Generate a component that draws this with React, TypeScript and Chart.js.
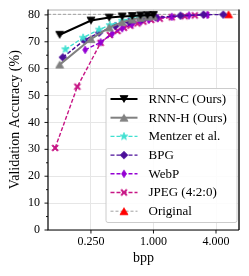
import React, { useEffect, useRef } from 'react';
import { Chart, registerables } from 'chart.js';

Chart.register(...registerables);

const FONT = '"Liberation Serif", "Times New Roman", serif';

const X_MIN = 0.0965;
const X_MAX = 6.66;
const Y_MIN = 0;
const Y_MAX = 82;
const xTickValues = [0.25, 1, 4];
const yTickValues = [0, 5, 10, 15, 20, 25, 30, 35, 40, 45, 50, 55, 60, 65, 70, 75, 80];

const rnnCBpp = [0.125, 0.25, 0.375, 0.5, 0.625, 0.75, 0.875, 1.0];
const rnnCAcc = [72.6, 77.9, 79.0, 79.4, 79.6, 79.8, 79.9, 80.0];

const rnnHBpp = [0.125, 0.25, 0.375, 0.5, 0.625, 0.75, 0.875, 1.0];
const rnnHAcc = [61.5, 71.0, 75.3, 77.3, 78.3, 78.9, 79.3, 79.5];

const mentzerBpp = [0.142, 0.21, 0.3, 0.38, 0.5, 0.62, 0.75];
const mentzerAcc = [67.2, 71.5, 74.5, 76.2, 77.8, 78.8, 79.3];

const bpgBpp = [0.134, 0.216, 0.3, 0.43, 0.58, 0.78, 1.05, 1.82, 3.03, 4.7];
const bpgAcc = [64.2, 70.6, 73.4, 75.9, 77.5, 78.5, 79.1, 79.7, 80.1, 80.1];

const webpBpp = [0.22, 0.31, 0.4, 0.5, 0.62, 0.75, 0.9, 1.1, 1.5, 2.2, 3.3];
const webpAcc = [67.0, 69.8, 73.0, 75.0, 76.5, 77.5, 78.2, 78.8, 79.3, 79.8, 80.0];

const jpegBpp = [0.113, 0.185, 0.31, 0.38, 0.45, 0.52, 0.6, 0.7, 0.8, 0.95, 1.15, 1.5, 2.0, 2.5, 3.2];
const jpegAcc = [30.5, 53.3, 69.6, 72.5, 74.0, 75.2, 76.0, 76.8, 77.5, 78.1, 78.6, 79.1, 79.5, 79.8, 80.0];

const originalBpp = [X_MIN, 5.28, X_MAX];
const originalAcc = [80.2, 80.2, 80.2];
const originalMarkerRadius = [0, 4, 0];

const seriesLabels = ['RNN-C (Ours)', 'RNN-H (Ours)', 'Mentzer et al.', 'BPG', 'WebP', 'JPEG (4:2:0)', 'Original'];

function mk(w: number, h: number, fn: (g: CanvasRenderingContext2D, cx: number, cy: number) => void) {
  const c = document.createElement('canvas');
  c.width = w;
  c.height = h;
  const g = c.getContext('2d')!;
  fn(g, w / 2, h / 2);
  return c;
}

function poly(g: CanvasRenderingContext2D, pts: number[][], color: string) {
  g.beginPath();
  pts.forEach((p, i) => (i === 0 ? g.moveTo(p[0], p[1]) : g.lineTo(p[0], p[1])));
  g.closePath();
  g.fillStyle = color;
  g.strokeStyle = color;
  g.lineWidth = 0.8;
  g.lineJoin = 'miter';
  g.fill();
  g.stroke();
}

function triDown(color: string, r: number) {
  return mk(10, 10, (g, cx, cy) => poly(g, [[cx - r, cy - r * 0.85], [cx + r, cy - r * 0.85], [cx, cy + r * 0.85]], color));
}
function triUp(color: string, r: number) {
  return mk(10, 10, (g, cx, cy) => poly(g, [[cx - r, cy + r * 0.85], [cx + r, cy + r * 0.85], [cx, cy - r * 0.85]], color));
}
function star(color: string, r: number) {
  return mk(10, 10, (g, cx, cy) => {
    const pts: number[][] = [];
    for (let i = 0; i < 10; i++) {
      const rr = i % 2 === 0 ? r : r * 0.4;
      const a = -Math.PI / 2 + (i * Math.PI) / 5;
      pts.push([cx + rr * Math.cos(a), cy + rr * Math.sin(a)]);
    }
    poly(g, pts, color);
  });
}
function diamond(color: string, rx: number, ry: number) {
  return mk(10, 10, (g, cx, cy) => poly(g, [[cx, cy - ry], [cx + rx, cy], [cx, cy + ry], [cx - rx, cy]], color));
}
function xMarker(color: string, r: number) {
  return mk(10, 10, (g, cx, cy) => {
    const t = 1.0;
    const pts = [
      [-r + t, -r], [0, -t], [r - t, -r], [r, -r + t], [t, 0], [r, r - t],
      [r - t, r], [0, t], [-r + t, r], [-r, r - t], [-t, 0], [-r, -r + t],
    ].map((p) => [cx + p[0], cy + p[1]]);
    poly(g, pts, color);
  });
}

export default function App() {
  const ref = useRef<HTMLCanvasElement>(null);

  useEffect(() => {
    if (!ref.current) return;

    const styles = [
      { color: '#000000', width: 2, dash: [] as number[], marker: triDown('#000000', 4) },
      { color: '#808080', width: 2, dash: [], marker: triUp('#808080', 4) },
      { color: '#40e0d0', width: 1.4, dash: [4, 2], marker: star('#40e0d0', 4) },
      { color: '#4b0f99', width: 1.4, dash: [4, 2], marker: diamond('#4b0f99', 3.8, 3.8) },
      { color: '#9400d3', width: 1.4, dash: [4, 2], marker: diamond('#9400d3', 2.4, 3.8) },
      { color: '#c71585', width: 1.4, dash: [4, 2], marker: xMarker('#c71585', 3.2) },
      { color: '#a0a0a0', width: 1, dash: [3, 2], marker: triUp('#ff0000', 4) },
    ];

    const seriesX = [rnnCBpp, rnnHBpp, mentzerBpp, bpgBpp, webpBpp, jpegBpp, originalBpp];
    const seriesY = [rnnCAcc, rnnHAcc, mentzerAcc, bpgAcc, webpAcc, jpegAcc, originalAcc];

    const datasets = seriesX.map((xs, si) => ({
      label: seriesLabels[si],
      data: xs.map((x, i) => ({ x, y: seriesY[si][i] })),
      borderColor: styles[si].color,
      backgroundColor: styles[si].color,
      borderWidth: styles[si].width,
      borderDash: styles[si].dash,
      pointStyle: styles[si].marker,
      pointRadius: si === 6 ? originalMarkerRadius : 4,
      tension: 0,
      clip: false as const,
      order: si === 6 ? 10 : si,
    }));

    const decor = {
      id: 'decor',
      afterDraw(chart: any) {
        const { ctx, chartArea: ca } = chart;
        const xs = chart.scales.x;
        const ys = chart.scales.y;
        ctx.save();
        // frame
        ctx.lineWidth = 1;
        ctx.strokeStyle = '#b0b0b0';
        ctx.beginPath();
        ctx.moveTo(ca.left, ca.top + 0.5);
        ctx.lineTo(ca.right, ca.top + 0.5);
        ctx.stroke();
        ctx.strokeStyle = '#555555';
        ctx.lineWidth = 2;
        ctx.beginPath();
        ctx.moveTo(ca.right, ca.top);
        ctx.lineTo(ca.right, ca.bottom);
        ctx.stroke();
        ctx.strokeStyle = '#000000';
        ctx.lineWidth = 1.2;
        ctx.beginPath();
        ctx.moveTo(ca.left, ca.top);
        ctx.lineTo(ca.left, ca.bottom);
        ctx.lineTo(ca.right, ca.bottom);
        ctx.stroke();
        // ticks
        ctx.lineWidth = 0.9;
        yTickValues.forEach((v) => {
          const y = ys.getPixelForValue(v);
          const len = v % 10 === 0 ? 3.5 : 2;
          ctx.beginPath();
          ctx.moveTo(ca.left, y);
          ctx.lineTo(ca.left - len, y);
          ctx.stroke();
        });
        xTickValues.forEach((v) => {
          const x = xs.getPixelForValue(v);
          ctx.beginPath();
          ctx.moveTo(x, ca.bottom);
          ctx.lineTo(x, ca.bottom + 3.5);
          ctx.stroke();
        });
        // axis titles
        ctx.fillStyle = '#000';
        ctx.font = `14px ${FONT}`;
        ctx.textAlign = 'center';
        ctx.textBaseline = 'middle';
        ctx.fillText('bpp', (ca.left + ca.right) / 2, 258);
        ctx.save();
        ctx.translate(15, (ca.top + ca.bottom) / 2);
        ctx.rotate(-Math.PI / 2);
        ctx.fillText('Validation Accuracy (%)', 0, 0);
        ctx.restore();
        // legend
        const bw = 131;
        const bh = 134;
        const bx = ca.right - 2.5 - bw;
        const by = ca.bottom - 8 - bh;
        ctx.beginPath();
        ctx.roundRect(bx + 0.5, by + 0.5, bw, bh, 2);
        ctx.fillStyle = 'rgba(255,255,255,0.85)';
        ctx.fill();
        ctx.strokeStyle = '#cccccc';
        ctx.lineWidth = 1;
        ctx.stroke();
        ctx.font = `13px ${FONT}`;
        ctx.textAlign = 'left';
        ctx.textBaseline = 'middle';
        seriesLabels.forEach((lab, i) => {
          const st = styles[i];
          const y = by + 11 + i * 18.7;
          ctx.strokeStyle = st.color;
          ctx.lineWidth = st.width;
          ctx.setLineDash(st.dash);
          ctx.beginPath();
          ctx.moveTo(bx + 5, y);
          ctx.lineTo(bx + 32, y);
          ctx.stroke();
          ctx.setLineDash([]);
          ctx.drawImage(st.marker, bx + 18.5 - st.marker.width / 2, y - st.marker.height / 2);
          ctx.fillStyle = '#000';
          ctx.fillText(lab, bx + 43, y + 0.5);
        });
        ctx.restore();
      },
    };

    const chart = new Chart(ref.current, {
      type: 'line',
      data: { datasets: datasets as any },
      options: {
        animation: false,
        responsive: false,
        devicePixelRatio: 1,
        layout: { padding: { top: 9.5, right: 10, left: 0, bottom: 0 } },
        plugins: { legend: { display: false }, tooltip: { enabled: false } },
        scales: {
          x: {
            type: 'logarithmic',
            min: X_MIN,
            max: X_MAX,
            afterBuildTicks: (s: any) => {
              s.ticks = xTickValues.map((v) => ({ value: v }));
            },
            afterFit: (s: any) => {
              s.height = 46;
              s.paddingLeft = 0;
              s.paddingRight = 0;
            },
            ticks: {
              callback: (v: any) => Number(v).toFixed(3),
              font: { family: FONT, size: 12 },
              color: '#000',
              padding: 5,
              maxRotation: 0,
              autoSkip: false,
            },
            grid: { color: '#e6e6e6', drawTicks: false },
            border: { display: false },
          },
          y: {
            type: 'linear',
            min: Y_MIN,
            max: Y_MAX,
            afterBuildTicks: (s: any) => {
              s.ticks = yTickValues.map((v) => ({ value: v }));
            },
            afterFit: (s: any) => {
              s.width = 48;
              s.paddingTop = 0;
              s.paddingBottom = 0;
            },
            ticks: {
              callback: (v: any) => (Number(v) % 10 === 0 ? String(v) : ''),
              font: { family: FONT, size: 12 },
              color: '#000',
              padding: 8,
              autoSkip: false,
            },
            grid: {
              color: (c: any) => (c.tick && c.tick.value % 10 === 0 ? '#e6e6e6' : 'rgba(0,0,0,0)'),
              drawTicks: false,
            },
            border: { display: false },
          },
        },
      },
      plugins: [decor],
    });

    return () => chart.destroy();
  }, []);

  return (
    <div style={{ position: 'fixed', left: 0, top: 0, width: 249, height: 276, background: '#fff' }}>
      <canvas ref={ref} width={249} height={276} style={{ display: 'block', width: 249, height: 276 }} />
    </div>
  );
}
